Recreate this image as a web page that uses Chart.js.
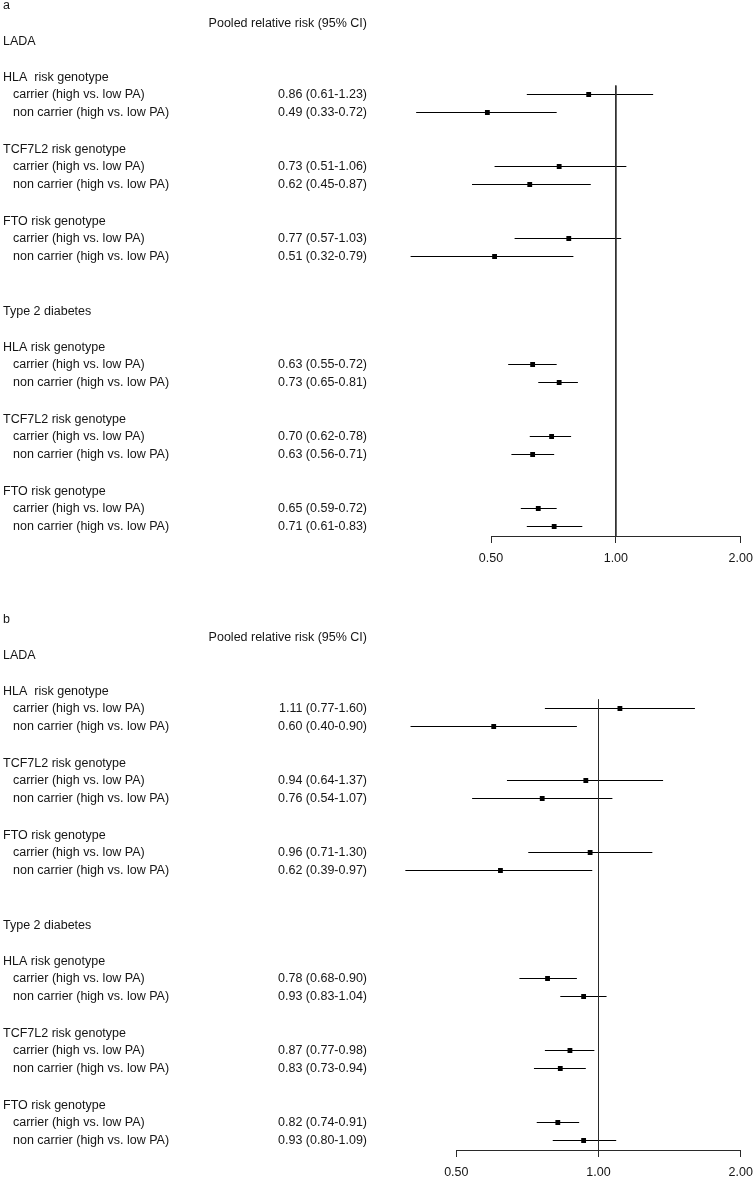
<!DOCTYPE html>
<html><head><meta charset="utf-8">
<script src="https://cdn.jsdelivr.net/npm/chart.js@4.4.1/dist/chart.umd.min.js"></script>
<style>
html,body{margin:0;padding:0;background:#fff;overflow:hidden;width:755px;height:1180px}
canvas{position:absolute;left:0}
#ca{top:0}
#cb{top:614px}
</style></head><body>
<canvas id="ca" width="755" height="614"></canvas>
<canvas id="cb" width="755" height="566"></canvas>
<script>
// ---- data ----
const outcomes = ["LADA", "Type 2 diabetes"];
const genotypesLADA = ["HLA  risk genotype", "TCF7L2 risk genotype", "FTO risk genotype"];
const genotypesT2D = ["HLA risk genotype", "TCF7L2 risk genotype", "FTO risk genotype"];
const subgroups = ["carrier (high vs. low PA)", "non carrier (high vs. low PA)"];
const headerText = "Pooled relative risk (95% CI)";
const tickValues = [0.5, 1, 2];

// panel a
const estA  = [0.86, 0.49, 0.73, 0.62, 0.77, 0.51, 0.63, 0.73, 0.70, 0.63, 0.65, 0.71];
const lowA  = [0.61, 0.33, 0.51, 0.45, 0.57, 0.32, 0.55, 0.65, 0.62, 0.56, 0.59, 0.61];
const highA = [1.23, 0.72, 1.06, 0.87, 1.03, 0.79, 0.72, 0.81, 0.78, 0.71, 0.72, 0.83];
// panel b
const estB  = [1.11, 0.60, 0.94, 0.76, 0.96, 0.62, 0.78, 0.93, 0.87, 0.83, 0.82, 0.93];
const lowB  = [0.77, 0.40, 0.64, 0.54, 0.71, 0.39, 0.68, 0.83, 0.77, 0.73, 0.74, 0.80];
const highB = [1.60, 0.90, 1.37, 1.07, 1.30, 0.97, 0.90, 1.04, 0.98, 0.94, 0.91, 1.09];

// ---- layout helpers ----
const FONT = '"Liberation Sans", Arial, sans-serif';
const FS = 12.5;
const TXT = '#151515';
Chart.defaults.font.family = FONT;
Chart.defaults.font.size = FS;

function rowOf(i) {
  const g = Math.floor(i / 6), k = Math.floor((i % 6) / 2), s = i % 2;
  return g * 15 + 3 + 4 * k + s;
}
function fmt(v) { return v.toFixed(2); }

function textLines(letter, est, low, high) {
  const lines = [];
  lines.push({t: letter, x: 3, r: -1.94, align: 'left'});
  lines.push({t: headerText, x: 367, r: -0.95, align: 'right'});
  outcomes.forEach((o, g) => {
    lines.push({t: o, x: 3, r: g * 15 + 0.06, align: 'left'});
    const gens = g === 0 ? genotypesLADA : genotypesT2D;
    gens.forEach((gn, k) => {
      lines.push({t: gn, x: 3, r: g * 15 + 2 + 4 * k + 0.06, align: 'left'});
    });
  });
  est.forEach((e, i) => {
    const r = rowOf(i);
    lines.push({t: subgroups[i % 2], x: 13, r: r, align: 'left'});
    lines.push({t: fmt(e) + ' (' + fmt(low[i]) + '-' + fmt(high[i]) + ')', x: 367, r: r, align: 'right'});
  });
  return lines;
}

function makePanel(id, letter, est, low, high, xmin, canvasH) {
  const lines = textLines(letter, est, low, high);
  const datasets = [];
  datasets.push({data: [{x: 1, y: 2.5}, {x: 1, y: 27.6}], borderColor: '#2a2a2a', borderWidth: 1, pointRadius: 0, showLine: true});
  est.forEach((e, i) => {
    const r = rowOf(i);
    datasets.push({data: [{x: low[i], y: r}, {x: high[i], y: r}], borderColor: '#000', borderWidth: 1, pointRadius: 0, showLine: true});
  });
  datasets.push({data: est.map((e, i) => ({x: e, y: rowOf(i)})), pointStyle: 'rect', pointRadius: 3.4,
    backgroundColor: '#000', borderColor: '#000', pointBorderWidth: 0, showLine: false});

  const overlay = {
    id: 'overlay',
    afterDraw(chart) {
      const ctx = chart.ctx, y = chart.scales.y, x = chart.scales.x;
      ctx.save();
      // axis line between first and last tick
      ctx.strokeStyle = '#2a2a2a'; ctx.lineWidth = 1;
      const yb = Math.round(chart.chartArea.bottom) + 0.5;
      ctx.beginPath();
      ctx.moveTo(x.getPixelForValue(tickValues[0]), yb);
      ctx.lineTo(x.getPixelForValue(tickValues[tickValues.length - 1]), yb);
      ctx.stroke();
      // texts
      ctx.fillStyle = TXT;
      ctx.font = FS + 'px ' + FONT;
      ctx.textBaseline = 'middle';
      lines.forEach(l => {
        ctx.textAlign = l.align;
        ctx.fillText(l.t, l.x, y.getPixelForValue(l.r));
      });
      ctx.restore();
    }
  };

  new Chart(document.getElementById(id), {
    type: 'scatter',
    data: {datasets},
    options: {
      responsive: false, animation: false, devicePixelRatio: 1, events: [],
      layout: {autoPadding: false, padding: {left: 399, right: 14.3, top: 0, bottom: 0}},
      plugins: {legend: {display: false}, tooltip: {enabled: false}},
      scales: {
        x: {
          type: 'logarithmic', min: xmin, max: 2,
          afterBuildTicks: s => { s.ticks = tickValues.map(v => ({value: v})); },
          afterFit: s => { s.height = canvasH - 536; s.paddingLeft = 0; s.paddingRight = 0; },
          ticks: {callback: v => Number(v).toFixed(2), color: TXT, padding: 8, maxRotation: 0, autoSkip: false,
                  font: {family: FONT, size: FS}},
          grid: {drawOnChartArea: false, drawTicks: true, tickLength: 7, color: '#2a2a2a'},
          border: {display: false}
        },
        y: {type: 'linear', display: false, reverse: true, min: -2.25, max: 536 / 18 - 2.25}
      }
    },
    plugins: [overlay]
  });
}

makePanel('ca', 'a', estA, lowA, highA, 0.3094, 614);
makePanel('cb', 'b', estB, lowB, highB, 0.3781, 566);
</script>
</body></html>
